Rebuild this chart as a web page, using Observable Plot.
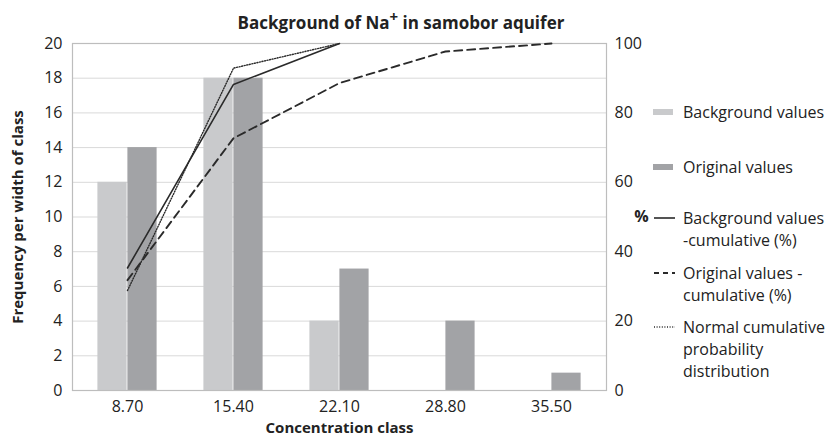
<!DOCTYPE html>
<html><head><meta charset="utf-8">
<script src="https://cdn.jsdelivr.net/npm/d3@7"></script>
<script src="https://cdn.jsdelivr.net/npm/@observablehq/plot@0.6"></script>
<style>
body{margin:0;background:#fff;font-family:"Open Sans",sans-serif;}
#wrap{position:relative;width:831px;height:439px;overflow:hidden;}
#title{position:absolute;left:201px;width:400px;top:12px;text-align:center;font-weight:bold;font-size:17px;color:#222;line-height:22px;white-space:nowrap;}
#title sup{font-size:15px;line-height:0;}
#legend{position:absolute;left:653px;top:0;font-size:16px;color:#222;}
.item{position:absolute;left:0;display:flex;white-space:nowrap;line-height:22px;}
.item svg{flex:none;margin-right:8px;}
</style></head><body>
<div id="wrap"><div id="chart"></div><div id="title">Background of Na<sup>+</sup> in samobor aquifer</div><div id="legend"></div></div>
<script>
const categories = ["8.70", "15.40", "22.10", "28.80", "35.50"];
const backgroundValues = [12, 18, 4, 0, 0];
const originalValues = [14, 18, 7, 4, 1];
const backgroundCumulative = [35.3, 88.2, 100];
const originalCumulative = [31.8, 72.7, 88.6, 97.7, 100];
const normalCumulative = [28.8, 92.9, 100];
const leftTicks = [0, 2, 4, 6, 8, 10, 12, 14, 16, 18, 20];
const rightTicks = [0, 20, 40, 60, 80, 100];
const legendItems = [
  {type: "bar", color: "#c9cacc", lines: ["Background values"], top: 101},
  {type: "bar", color: "#a2a3a6", lines: ["Original values"], top: 156},
  {type: "line", dash: null, width: 1.6, lines: ["Background values", "-cumulative (%)"], top: 207},
  {type: "line", dash: "5,4", width: 1.8, lines: ["Original values -", "cumulative (%)"], top: 262},
  {type: "line", dash: "1,1.6", width: 1.3, lines: ["Normal cumulative", "probability", "distribution"], top: 316}
];

const lightColor = "#c9cacc", darkColor = "#a2a3a6", lineColor = "#2a2a2a";
const bg = categories.map((c, i) => ({cat: c, v: backgroundValues[i]})).filter(d => d.v > 0);
const orig = categories.map((c, i) => ({cat: c, v: originalValues[i]}));
const bgCum = backgroundCumulative.map((p, i) => ({cat: categories[i], p}));
const origCum = originalCumulative.map((p, i) => ({cat: categories[i], p}));
const normCum = normalCumulative.map((p, i) => ({cat: categories[i], p}));
const pct = d => d.p / 5; // right axis 0–100 maps onto left axis 0–20

const W = 831, H = 439, mL = 72, mR = 225;
const bw = (W - mL - mR) / categories.length;
const barW = 30;

const chart = Plot.plot({
  width: W, height: H,
  marginLeft: mL, marginRight: mR, marginTop: 43, marginBottom: 49,
  style: {fontFamily: "'Open Sans', sans-serif", fontSize: "16px", color: "#222", background: "#fff"},
  x: {type: "band", domain: categories, padding: 0},
  y: {domain: [0, 20]},
  marks: [
    Plot.gridY(leftTicks, {stroke: "#d9d9d9", strokeOpacity: 1}),
    Plot.barY(bg, {x: "cat", y: "v", fill: lightColor, insetLeft: bw / 2 - barW, insetRight: bw / 2}),
    Plot.barY(orig, {x: "cat", y: "v", fill: darkColor, insetLeft: bw / 2, insetRight: bw / 2 - barW}),
    Plot.frame({stroke: "#bdbdbd", strokeWidth: 1.2}),
    Plot.line(normCum, {x: "cat", y: pct, stroke: lineColor, strokeWidth: 1.4, strokeDasharray: "1,1.6"}),
    Plot.line(origCum, {x: "cat", y: pct, stroke: lineColor, strokeWidth: 1.9, strokeDasharray: "8,5"}),
    Plot.line(bgCum, {x: "cat", y: pct, stroke: lineColor, strokeWidth: 1.6}),
    Plot.axisY(leftTicks, {anchor: "left", tickSize: 0, tickPadding: 10, label: null}),
    Plot.axisY(rightTicks.map(d => d / 5), {anchor: "right", tickFormat: d => d * 5, tickSize: 0, tickPadding: 8, label: null}),
    Plot.axisX({tickSize: 0, tickPadding: 10, label: null}),
    Plot.text(["Concentration class"], {frameAnchor: "bottom", lineAnchor: "middle", textAnchor: "middle", dy: 38, fontWeight: "bold", fontSize: 15, fill: "#222"}),
    Plot.text(["Frequency per width of class"], {frameAnchor: "left", lineAnchor: "middle", textAnchor: "middle", dx: -54, rotate: -90, fontWeight: "bold", fontSize: 15, fill: "#222"}),
    Plot.text(["%"], {frameAnchor: "right", lineAnchor: "middle", textAnchor: "middle", dx: 35, fontWeight: "bold", fontSize: 16, fill: "#222"})
  ]
});
document.getElementById("chart").appendChild(chart);

const legend = document.getElementById("legend");
for (const it of legendItems) {
  const div = document.createElement("div");
  div.className = "item";
  div.style.top = it.top + "px";
  let sw;
  if (it.type === "bar") {
    sw = `<svg width="22" height="22"><rect x="0" y="8" width="20" height="6" fill="${it.color}"/></svg>`;
  } else {
    sw = `<svg width="22" height="22"><line x1="1" x2="22" y1="11" y2="11" stroke="${lineColor}" stroke-width="${it.width}" ${it.dash ? `stroke-dasharray="${it.dash}"` : ""}/></svg>`;
  }
  div.innerHTML = sw + `<div>${it.lines.join("<br>")}</div>`;
  legend.appendChild(div);
}
</script>
</body></html>
